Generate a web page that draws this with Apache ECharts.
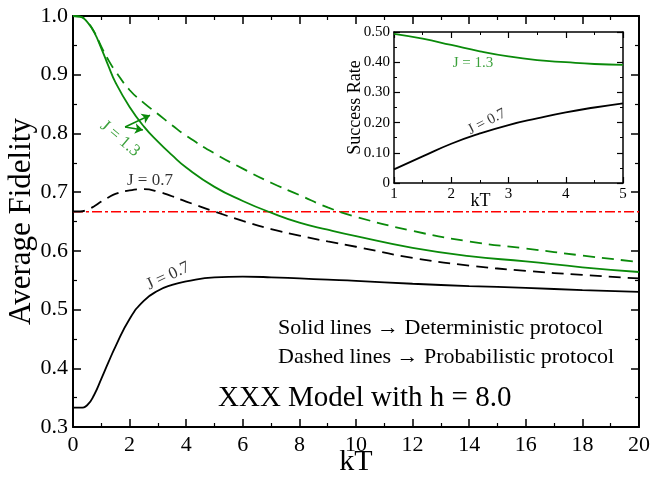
<!DOCTYPE html>
<html><head><meta charset="utf-8">
<script src="https://cdn.jsdelivr.net/npm/echarts@6/dist/echarts.min.js"></script>
<style>html,body{margin:0;padding:0;background:#fff}#c{width:652px;height:477px}</style>
</head><body><div id="c"></div>
<script>
// ---- data ----
const kT = [0,0.25,0.5,0.75,1,1.25,1.5,2,2.5,3,3.5,4,5,6,7,8,9,10,12,14,16,18,20];
const detJ13 = [1.0,0.999,0.99,0.972,0.945,0.915,0.887,0.845,0.812,0.786,0.763,0.742,0.709,0.685,0.665,0.648,0.636,0.625,0.605,0.591,0.582,0.572,0.564];
const probJ13 = [1.0,0.999,0.99,0.973,0.948,0.925,0.906,0.874,0.852,0.833,0.814,0.796,0.766,0.740,0.716,0.695,0.674,0.658,0.634,0.616,0.604,0.592,0.581];
const probJ07 = [0.667,0.667,0.670,0.676,0.684,0.691,0.697,0.703,0.705,0.701,0.693,0.684,0.667,0.651,0.637,0.626,0.616,0.607,0.588,0.575,0.566,0.559,0.553];
const detJ07 = [0.333,0.333,0.337,0.355,0.382,0.410,0.437,0.484,0.515,0.532,0.542,0.548,0.555,0.556,0.555,0.553,0.551,0.549,0.544,0.540,0.537,0.533,0.530];
const classicalLimit = 2/3;
const insetKT = [1,1.5,2,2.5,3,3.5,4,4.5,5];
const rateJ13 = [0.494,0.478,0.457,0.436,0.419,0.407,0.400,0.394,0.391];
const rateJ07 = [0.045,0.088,0.130,0.164,0.192,0.214,0.234,0.250,0.264];

// ---- annotations (data coordinates) ----
const GREEN = '#0a8a0a';
const mainNotes = [
  {x:1.66, y:0.791, text:'J = 1.3', rot:-40, color:GREEN},
  {x:2.72, y:0.719, text:'J = 0.7', rot:0, color:'#000'},
  {x:3.36, y:0.557, text:'J = 0.7', rot:25, color:'#000'}
];
const insetNotes = [
  {x:2.38, y:0.397, text:'J = 1.3', rot:0, color:GREEN},
  {x:2.62, y:0.203, text:'J = 0.7', rot:27, color:'#000'}
];
const arrows = [
  [[1.84,0.811],[2.72,0.831]],
  [[1.84,0.811],[2.47,0.806]]
];

const FONT = 'Liberation Serif';
const pair = (xs, ys) => xs.map((x,i)=>[x, ys[i]]);

function axisCommon(extra){
  return Object.assign({
    type:'value',
    nameMoveOverlap:false,
    axisLine:{show:true,onZero:false,lineStyle:{color:'#000',width:2}},
    axisTick:{show:true,inside:true,length:8,lineStyle:{color:'#000',width:1.5}},
    minorTick:{show:true,splitNumber:2,length:4,lineStyle:{color:'#000',width:1.2}},
    splitLine:{show:false},
    axisLabel:{color:'#000',fontFamily:FONT,fontSize:22}
  }, extra);
}
const insetAxisStyle = {
  axisTick:{show:true,inside:true,length:6,lineStyle:{color:'#000',width:1.2}},
  minorTick:{show:true,splitNumber:2,length:3,lineStyle:{color:'#000',width:1}},
  axisLine:{show:true,onZero:false,lineStyle:{color:'#000',width:1.5}}
};

function noteSeries(notes, xi, yi){
  return {
    type:'scatter', xAxisIndex:xi, yAxisIndex:yi, symbolSize:0, silent:true, z:5,
    data: notes.map(n=>({value:[n.x,n.y], label:{show:true,position:'inside',formatter:n.text,rotate:n.rot,color:n.color,fontFamily:FONT,fontSize: xi===0?17:15}}))
  };
}
const lineBase = {type:'line', showSymbol:false, smooth:true};

const chart = echarts.init(document.getElementById('c'), null, {renderer:'canvas'});
chart.setOption({
  animation:false,
  backgroundColor:'#fff',
  grid:[
    {left:73, right:13, top:16, bottom:50, outerBoundsMode:'none', containLabel:false},
    {left:394, top:32, width:229, height:151, show:true, backgroundColor:'#fff', borderWidth:0, z:3, outerBoundsMode:'none', containLabel:false}
  ],
  xAxis:[
    axisCommon({gridIndex:0, min:0, max:20, interval:2, position:'bottom',
      name:'kT', nameLocation:'middle', nameGap:20, nameTextStyle:{color:'#000',fontFamily:FONT,fontSize:30},
      axisLabel:{color:'#000',fontFamily:FONT,fontSize:22,margin:7}}),
    axisCommon({gridIndex:0, min:0, max:20, interval:2, position:'top', axisLabel:{show:false}}),
    axisCommon(Object.assign({gridIndex:1, min:1, max:5, interval:1, position:'bottom', z:4,
      name:'kT', nameLocation:'middle', nameGap:9, nameTextStyle:{color:'#000',fontFamily:FONT,fontSize:18,padding:[0,56,0,0]},
      axisLabel:{color:'#000',fontFamily:FONT,fontSize:15,margin:4}}, insetAxisStyle)),
    axisCommon(Object.assign({gridIndex:1, min:1, max:5, interval:1, position:'top', z:4, axisLabel:{show:false}}, insetAxisStyle))
  ],
  yAxis:[
    axisCommon({gridIndex:0, min:0.3, max:1.0, interval:0.1, position:'left',
      name:'Average Fidelity', nameLocation:'middle', nameGap:36, nameTextStyle:{color:'#000',fontFamily:FONT,fontSize:31},
      axisLabel:{color:'#000',fontFamily:FONT,fontSize:22,margin:5,formatter:v=>v.toFixed(1)}}),
    axisCommon({gridIndex:0, min:0.3, max:1.0, interval:0.1, position:'right', axisLabel:{show:false}}),
    axisCommon(Object.assign({gridIndex:1, min:0, max:0.5, interval:0.1, position:'left', z:4,
      name:'Success Rate', nameLocation:'middle', nameGap:30, nameTextStyle:{color:'#000',fontFamily:FONT,fontSize:18},
      axisLabel:{color:'#000',fontFamily:FONT,fontSize:15,margin:4,formatter:v=>v===0?'0':v.toFixed(2)}}, insetAxisStyle)),
    axisCommon(Object.assign({gridIndex:1, min:0, max:0.5, interval:0.1, position:'right', z:4, axisLabel:{show:false}}, insetAxisStyle))
  ],
  series:[
    {type:'line', xAxisIndex:0, yAxisIndex:0, data:pair([0,20],[classicalLimit,classicalLimit]), showSymbol:false, silent:true,
      lineStyle:{color:'#ff0000',width:1.6,type:[10,3,3,3]}},
    Object.assign({xAxisIndex:0, yAxisIndex:0, data:pair(kT,detJ13), lineStyle:{color:GREEN,width:1.8}}, lineBase),
    Object.assign({xAxisIndex:0, yAxisIndex:0, data:pair(kT,probJ13), lineStyle:{color:GREEN,width:1.8,type:[12,7]}}, lineBase),
    Object.assign({xAxisIndex:0, yAxisIndex:0, data:pair(kT,probJ07), lineStyle:{color:'#000',width:1.8,type:[12,7]}}, lineBase),
    Object.assign({xAxisIndex:0, yAxisIndex:0, data:pair(kT,detJ07), lineStyle:{color:'#000',width:1.8}}, lineBase),
    {type:'lines', coordinateSystem:'cartesian2d', xAxisIndex:0, yAxisIndex:0, silent:true, symbol:['none','arrow'], symbolSize:8,
      lineStyle:{color:GREEN,width:1.5,opacity:1}, data:arrows.map(c=>({coords:c}))},
    noteSeries(mainNotes,0,0),
    Object.assign({xAxisIndex:2, yAxisIndex:2, data:pair(insetKT,rateJ13), z:5, lineStyle:{color:GREEN,width:1.8}}, lineBase),
    Object.assign({xAxisIndex:2, yAxisIndex:2, data:pair(insetKT,rateJ07), z:5, lineStyle:{color:'#000',width:1.8}}, lineBase),
    noteSeries(insetNotes,2,2)
  ],
  graphic:[
    {type:'text', left:278, top:317, z:10, style:{text:'Solid lines \u2192 Deterministic protocol', font:'22px "Liberation Serif"', fill:'#000'}},
    {type:'text', left:278, top:346, z:10, style:{text:'Dashed lines \u2192 Probabilistic protocol', font:'22px "Liberation Serif"', fill:'#000'}},
    {type:'text', left:218, top:384, z:10, style:{text:'XXX Model with h = 8.0', font:'29px "Liberation Serif"', fill:'#000'}}
  ]
});
</script></body></html>
